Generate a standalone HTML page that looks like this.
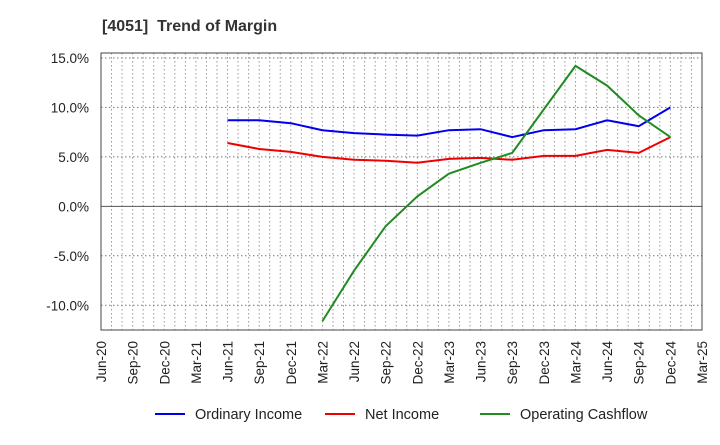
<!DOCTYPE html>
<html><head><meta charset="utf-8"><style>
body{margin:0;background:#fff;font-family:"Liberation Sans",sans-serif}
</style></head><body>
<svg id="chart" width="720" height="440" xmlns="http://www.w3.org/2000/svg" font-family="Liberation Sans, sans-serif">
<text x="102" y="31" font-size="16" font-weight="bold" fill="#333" xml:space="preserve" style="white-space:pre">[4051]  Trend of Margin</text>
<g id="grid"></g><g id="axes"></g><g id="series"></g><g id="legend"></g>
</svg>
<script>
const categories=["Jun-20","Sep-20","Dec-20","Mar-21","Jun-21","Sep-21","Dec-21","Mar-22","Jun-22","Sep-22","Dec-22","Mar-23","Jun-23","Sep-23","Dec-23","Mar-24","Jun-24","Sep-24","Dec-24","Mar-25"];
const yTicks=[15,10,5,0,-5,-10];
const ordinaryIncome=[null,null,null,null,8.7,8.7,8.4,7.7,7.4,7.25,7.15,7.7,7.8,7.0,7.7,7.8,8.7,8.1,10.0,null];
const netIncome=[null,null,null,null,6.4,5.8,5.5,5.0,4.7,4.6,4.4,4.8,4.9,4.7,5.1,5.1,5.7,5.4,7.0,null];
const operatingCashflow=[null,null,null,null,null,null,null,-11.6,-6.5,-2.0,1.0,3.3,4.4,5.4,9.8,14.2,12.2,9.2,7.0,null];
const L=101,R=702,T=53,B=330,yMin=-12.5,yMax=15.5;
const step=(R-L)/(categories.length-1);
const xS=i=>L+i*step;
const yS=v=>B-(v-yMin)/(yMax-yMin)*(B-T);
const NS="http://www.w3.org/2000/svg";
function mk(tag,attrs,parent){const e=document.createElementNS(NS,tag);for(const k in attrs)e.setAttribute(k,attrs[k]);document.getElementById(parent).appendChild(e);return e;}
for(let i=0;i<(categories.length-1)*3;i++){const x=L+i*step/3;
const g=mk("line",{x1:x,x2:x,y1:T,y2:B,stroke:"#999","stroke-dasharray":"1.5,2.5","stroke-width":1},"grid");

}
yTicks.forEach(v=>{const y=yS(v);
const g=mk("line",{x1:L,x2:R,y1:y,y2:y,stroke:v===0?"#555":"#777","stroke-dasharray":v===0?"none":"1.5,2.5","stroke-width":1},"grid");


const t=mk("text",{x:L-12,y:y+5,"text-anchor":"end","font-size":13.5,fill:"#222"},"axes");t.textContent=v.toFixed(1)+"%";

});
const fr=mk("rect",{x:L,y:T,width:R-L,height:B-T,fill:"none",stroke:"#444","stroke-width":1},"axes");


categories.forEach((c,i)=>{const x=xS(i);
const t=mk("text",{x:x+5,y:B+11,"text-anchor":"end","font-size":13.5,fill:"#222",transform:`rotate(-90 ${x+5} ${B+11})`},"axes");t.textContent=c;

});
function line(data,color,name){let d="";data.forEach((v,i)=>{if(v==null)return;d+=(d?"L":"M")+xS(i).toFixed(1)+","+yS(v).toFixed(1);});
const p=mk("path",{d:d,fill:"none",stroke:color,"stroke-width":2},"series");

}
line(ordinaryIncome,"#0000ee","ordinary-income-line");
line(netIncome,"#ee0000","net-income-line");
line(operatingCashflow,"#228b22","operating-cashflow-line");
[["Ordinary Income","#0000ee",155,"legend-ordinary-income"],["Net Income","#ee0000",325,"legend-net-income"],["Operating Cashflow","#228b22",480,"legend-operating-cashflow"]].forEach(([lab,col,x,n])=>{
const g=mk("g",{},"legend");


const l=document.createElementNS(NS,"line");l.setAttribute("x1",x);l.setAttribute("x2",x+30);l.setAttribute("y1",414);l.setAttribute("y2",414);l.setAttribute("stroke",col);l.setAttribute("stroke-width",2);g.appendChild(l);
const t=document.createElementNS(NS,"text");t.setAttribute("x",x+40);t.setAttribute("y",419);t.setAttribute("font-size",14.5);t.setAttribute("fill","#222");t.textContent=lab;g.appendChild(t);});
</script>
</body></html>
